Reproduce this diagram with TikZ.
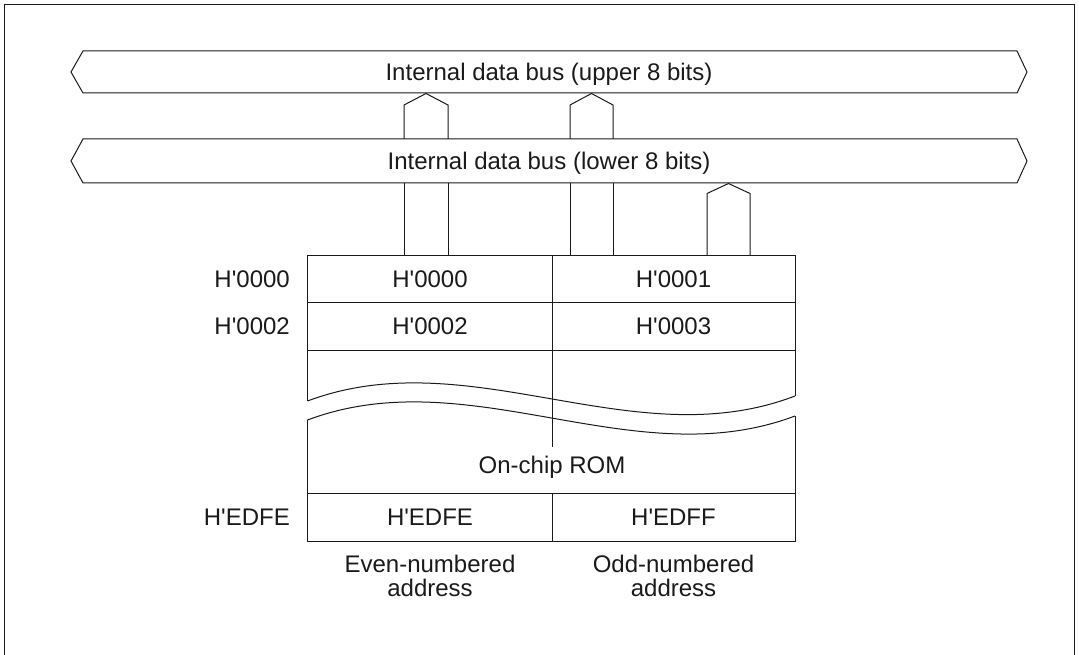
\documentclass[tikz,border=0pt]{standalone}
\usepackage{fontspec}
\setmainfont{Liberation Sans}
\usepackage{tikz}
\definecolor{ink}{HTML}{1A1A1A}
\newcommand{\hx}[1]{H\textquotesingle#1}
\tikzset{frame/.style={draw=ink,line width=1.6pt},
  bus/.style={draw=ink,line width=1pt,line join=miter},
  cell/.style={draw=ink,line width=1pt},
  txt/.style={font=\fontsize{24}{24}\selectfont,inner sep=0pt,text=ink,
    text height=17.2pt,text depth=0pt},
  note/.style={font=\fontsize{24}{24}\selectfont,inner sep=0pt,text=ink,align=center}}

\begin{document}
\begin{tikzpicture}[x=1pt,y=-1pt]
  \useasboundingbox (0,0) rectangle (1079,655);
  \draw[frame] (4.5,655) -- (4.5,4.5) -- (1074.5,4.5) -- (1074.5,655);
  % the two buses
  \draw[bus] (71,72) -- (83,51) -- (1017,51) -- (1027,72) -- (1017,93) -- (83,93) -- cycle;
  \draw[bus] (71,161) -- (83,139) -- (1017,139) -- (1027,161) -- (1017,183) -- (83,183) -- cycle;
  \node[txt] (busHi) at (549,72) {Internal data bus (upper 8 bits)};
  \node[txt] (busLo) at (549,161) {Internal data bus (lower 8 bits)};
  % feeds to the upper bus
  \draw[bus] (404,139) -- (404,105) -- (426,93.5) -- (448,105) -- (448,139);
  \draw[bus] (570,139) -- (570,105) -- (591.5,93.5) -- (613,105) -- (613,139);
  \draw[bus] (404,183) -- (404,255) (448,183) -- (448,255);
  \draw[bus] (570,183) -- (570,255) (613,183) -- (613,255);
  % feed to the lower bus
  \draw[bus] (707,255) -- (707,193.5) -- (728.5,183.5) -- (750,193.5) -- (750,255);
  % memory map
  \draw[cell] (307.5,401) -- (307.5,255) -- (795,255) -- (795,396);
  \draw[cell] (307.5,302) -- (795,302) (307.5,350) -- (795,350);
  \draw[cell] (552,255) -- (552,447);
  \draw[cell] (307.5,401) .. controls (470,340) and (633,458) .. (795,396);
  \draw[cell] (307.5,420) .. controls (470,359) and (633,477) .. (795,416);
  \draw[cell] (307.5,420) -- (307.5,541) -- (795,541) -- (795,416);
  \draw[cell] (307.5,493) -- (795,493) (552,493) -- (552,541);
  % addresses
  \node[txt,anchor=east] (adrA) at (290,279) {\hx{0000}};
  \node[txt,anchor=east] (adrB) at (290,326) {\hx{0002}};
  \node[txt,anchor=east] (adrC) at (290,517) {\hx{EDFE}};
  \node[txt] (evenA) at (430,279) {\hx{0000}};
  \node[txt] (oddA) at (673.5,279) {\hx{0001}};
  \node[txt] (evenB) at (430,326) {\hx{0002}};
  \node[txt] (oddB) at (673.5,326) {\hx{0003}};
  \node[txt] (rom) at (552,465) {On-chip ROM};
  \node[txt] (evenC) at (430,517) {\hx{EDFE}};
  \node[txt] (oddC) at (673.5,517) {\hx{EDFF}};
  \node[note,anchor=north] (evenNote) at (430,554.5) {Even-numbered\\address};
  \node[note,anchor=north] (oddNote) at (673.5,554.5) {Odd-numbered\\address};
\end{tikzpicture}
\end{document}
